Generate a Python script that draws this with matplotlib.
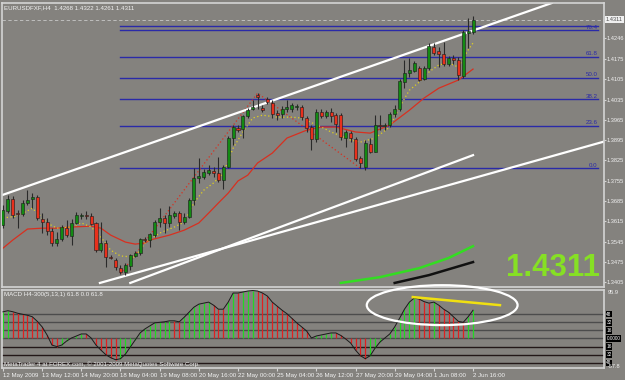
import numpy as np
import matplotlib
matplotlib.use('Agg')
import matplotlib.pyplot as plt
from matplotlib.patches import Ellipse
import matplotlib.transforms as mtransforms

# EURUSD H4 candles (12 May - 2 Jun 2009)
opens = [1.3602, 1.3650, 1.3691, 1.3643, 1.3640, 1.3678, 1.3691, 1.3698, 1.3622, 1.3612,
         1.3581, 1.3540, 1.3553, 1.3591, 1.3564, 1.3609, 1.3633, 1.3636, 1.3633, 1.3609,
         1.3515, 1.3540, 1.3491, 1.3481, 1.3453, 1.3440, 1.3460, 1.3495, 1.3505, 1.3553,
         1.3550, 1.3567, 1.3612, 1.3626, 1.3609, 1.3633, 1.3643, 1.3612, 1.3629, 1.3688,
         1.3764, 1.3767, 1.3781, 1.3788, 1.3781, 1.3757, 1.3802, 1.3902, 1.3936, 1.3933,
         1.3978, 1.4002, 1.4050, 1.4005, 1.4036, 1.4023, 1.3988, 1.3985, 1.4002, 1.4002,
         1.4009, 1.4009, 1.3971, 1.3940, 1.3898, 1.3992, 1.3978, 1.3992, 1.3981, 1.3981,
         1.3902, 1.3919, 1.3898, 1.3833, 1.3802, 1.3881, 1.3854, 1.3947, 1.3943, 1.3947,
         1.3985, 1.4002, 1.4095, 1.4126, 1.4133, 1.4143, 1.4105, 1.4143, 1.4216, 1.4202,
         1.4192, 1.4157, 1.4178, 1.4171, 1.4116, 1.4264, 1.4268]
highs = [1.3671, 1.3705, 1.3702, 1.3653, 1.3688, 1.3722, 1.3712, 1.3705, 1.3643, 1.3626,
         1.3591, 1.3578, 1.3602, 1.3619, 1.3622, 1.3647, 1.3643, 1.3650, 1.3643, 1.3612,
         1.3612, 1.3550, 1.3498, 1.3488, 1.3464, 1.3471, 1.3502, 1.3512, 1.3557, 1.3560,
         1.3574, 1.3619, 1.3660, 1.3636, 1.3667, 1.3650, 1.3650, 1.3643, 1.3695, 1.3798,
         1.3833, 1.3795, 1.3809, 1.3802, 1.3836, 1.3809, 1.3909, 1.3947, 1.3947, 1.3981,
         1.4005, 1.4033, 1.4057, 1.4016, 1.4043, 1.4033, 1.3998, 1.4012, 1.4033, 1.4023,
         1.4019, 1.4016, 1.3978, 1.3947, 1.4002, 1.4002, 1.3998, 1.4005, 1.3988, 1.3988,
         1.3929, 1.3926, 1.3905, 1.3840, 1.3895, 1.3902, 1.3981, 1.3981, 1.3954, 1.3992,
         1.4016, 1.4105, 1.4171, 1.4178, 1.4168, 1.4150, 1.4150, 1.4230, 1.4230, 1.4216,
         1.4233, 1.4185, 1.4188, 1.4181, 1.4274, 1.4316, 1.4322]
lows = [1.3591, 1.3643, 1.3626, 1.3591, 1.3633, 1.3671, 1.3660, 1.3619, 1.3574, 1.3567,
        1.3529, 1.3529, 1.3546, 1.3560, 1.3533, 1.3605, 1.3622, 1.3622, 1.3602, 1.3509,
        1.3509, 1.3457, 1.3484, 1.3446, 1.3433, 1.3430, 1.3446, 1.3491, 1.3498, 1.3543,
        1.3526, 1.3560, 1.3595, 1.3574, 1.3595, 1.3626, 1.3584, 1.3605, 1.3626, 1.3671,
        1.3747, 1.3760, 1.3774, 1.3767, 1.3750, 1.3726, 1.3798, 1.3878, 1.3923, 1.3902,
        1.3971, 1.3998, 1.4002, 1.3992, 1.4019, 1.3971, 1.3964, 1.3971, 1.3992, 1.3992,
        1.3998, 1.3964, 1.3923, 1.3860, 1.3888, 1.3971, 1.3971, 1.3957, 1.3923, 1.3895,
        1.3871, 1.3888, 1.3823, 1.3798, 1.3791, 1.3850, 1.3854, 1.3929, 1.3929, 1.3940,
        1.3974, 1.3995, 1.4074, 1.4112, 1.4129, 1.4099, 1.4102, 1.4136, 1.4188, 1.4147,
        1.4150, 1.4150, 1.4157, 1.4102, 1.4109, 1.4212, 1.4261]
closes = [1.3653, 1.3691, 1.3636, 1.3640, 1.3678, 1.3688, 1.3698, 1.3626, 1.3612, 1.3581,
          1.3540, 1.3553, 1.3595, 1.3567, 1.3609, 1.3636, 1.3636, 1.3633, 1.3605, 1.3515,
          1.3540, 1.3491, 1.3488, 1.3457, 1.3440, 1.3464, 1.3498, 1.3505, 1.3553, 1.3550,
          1.3571, 1.3612, 1.3626, 1.3609, 1.3636, 1.3643, 1.3612, 1.3629, 1.3688, 1.3764,
          1.3771, 1.3785, 1.3791, 1.3781, 1.3757, 1.3802, 1.3902, 1.3940, 1.3929, 1.3978,
          1.3998, 1.4009, 1.4043, 1.3998, 1.4026, 1.3985, 1.3981, 1.4002, 1.4009, 1.4016,
          1.4012, 1.3974, 1.3936, 1.3898, 1.3992, 1.3978, 1.3992, 1.3978, 1.3950, 1.3905,
          1.3923, 1.3902, 1.3829, 1.3816, 1.3885, 1.3854, 1.3947, 1.3943, 1.3947, 1.3985,
          1.4002, 1.4099, 1.4126, 1.4136, 1.4161, 1.4102, 1.4143, 1.4219, 1.4195, 1.4192,
          1.4157, 1.4178, 1.4171, 1.4119, 1.4268, 1.4271, 1.4311]

# moving averages (bar index, price) read at a few points
red_ma_bars = [0, 2, 5, 8, 11, 14, 18, 20, 22, 25, 27, 29, 30, 34, 37, 40, 42, 44, 46, 48,
               50, 52, 55, 58, 62, 65, 68, 72, 75, 79, 83, 86, 89, 93, 96]
red_ma_vals = [1.3522, 1.3550, 1.3588, 1.3591, 1.3591, 1.3595, 1.3598, 1.3591, 1.3567, 1.3543,
               1.3536, 1.3540, 1.3550, 1.3567, 1.3584, 1.3609, 1.3643, 1.3678, 1.3712, 1.3754,
               1.3774, 1.3816, 1.3850, 1.3902, 1.3929, 1.3940, 1.3940, 1.3923, 1.3919, 1.3947,
               1.3998, 1.4040, 1.4074, 1.4102, 1.4140]
yel_ma_bars = [0, 3, 6, 7, 9, 11, 14, 16, 18, 20, 22, 24, 27, 29, 32, 35, 37, 39, 41, 43,
               45, 47, 49, 51, 53, 56, 59, 61, 65, 67, 71, 73, 76, 79, 81, 83, 85, 87, 89, 91,
               93, 95, 96]
yel_ma_vals = [1.3626, 1.3633, 1.3660, 1.3643, 1.3609, 1.3591, 1.3595, 1.3609, 1.3595, 1.3560,
               1.3515, 1.3495, 1.3491, 1.3540, 1.3574, 1.3595, 1.3612, 1.3678, 1.3722, 1.3747,
               1.3781, 1.3867, 1.3923, 1.3971, 1.3981, 1.3974, 1.3974, 1.3971, 1.3940, 1.3923,
               1.3895, 1.3888, 1.3902, 1.3940, 1.4009, 1.4067, 1.4095, 1.4130, 1.4154, 1.4161,
               1.4147, 1.4206, 1.4230]
green_ma_bars = [69, 77, 85, 91, 96]
green_ma_vals = [1.3402, 1.3422, 1.3453, 1.3488, 1.3529]
black_ma_bars = [80, 87, 96]
black_ma_vals = [1.3402, 1.3429, 1.3474]

# zigzag swing points
zz_bars = [24, 52, 73]
zz_vals = [1.3433, 1.4057, 1.3798]

# trend lines (bar, price) pairs
upper_line = [(-0.2, 1.3705), (112.1, 1.4368)]
lower_line1 = [(19.8, 1.3402), (123.0, 1.3891)]
lower_line2 = [(26.0, 1.3402), (96.0, 1.3843)]

# fibonacci retracement
fib_low = 1.3798
fib_high = 1.4420
fib_levels = [0.0, 23.6, 38.2, 50.0, 61.8, 76.4]
extra_level = 1.4288
bid = 1.4311

price_ticks = [1.4246, 1.4175, 1.4105, 1.4035, 1.3965, 1.3895, 1.3825, 1.3755,
               1.3685, 1.3615, 1.3545, 1.3475, 1.3405]

# MACD(5,13,1) values per bar
macd = [52.8, 55, 53, 50, 48, 46, 43, 34, 23, 7, -13, -16, -13, -5, 1, 5, 9, 9, 1, -13,
        -23, -32, -38, -42, -40, -31, -17, -3, 11, 19, 25, 31, 32, 33, 35, 35, 33, 42, 52, 62,
        68, 70, 72, 66, 58, 58, 72, 90, 90, 92, 94, 95, 94, 90, 84, 72, 64, 56, 49, 40,
        31, 23, 15, 1, 5, 7, 9, 11, 11, 6, -1, -9, -23, -34, -40, -34, -19, -7, 1, 9,
        23, 40, 58, 72, 80, 78, 73, 70, 72, 66, 58, 52, 43, 34, 32, 43, 56]
macd_levels = [48, 32, 16, 0, -16, -32, -48]

time_ticks = [0, 8, 16, 24, 32, 40, 48, 56, 64, 72, 80, 88, 96]
time_labels = ['12 May 2009', '13 May 12:00', '14 May 20:00', '18 May 04:00', '19 May 08:00',
               '20 May 16:00', '22 May 00:00', '25 May 04:00', '26 May 12:00', '27 May 20:00',
               '29 May 04:00', '1 Jun 08:00', '2 Jun 16:00']

BG = '#84827e'
FRAME = '#d4d4d4'
TXT = '#f2f2f2'
FIB = '#2a2aa8'
SMALL = ['Liberation Sans', 'DejaVu Sans']
FS = 4.4

fig = plt.figure(figsize=(6.25, 3.8), dpi=100)
fig.patch.set_facecolor(BG)
ax = fig.add_axes([2 / 625, 93 / 380, 602 / 625, 284 / 380])
ax2 = fig.add_axes([2 / 625, 12 / 380, 602 / 625, 78 / 380])

for a in (ax, ax2):
    a.set_facecolor(BG)
    a.set_xlim(-0.2, 122.75)
    for s in a.spines.values():
        s.set_color(FRAME)
        s.set_linewidth(1.2)

ax.set_ylim(1.3388, 1.4368)
ax2.set_ylim(-58.4, 96)

# price panel -------------------------------------------------------------
o = np.array(opens)
h = np.array(highs)
l = np.array(lows)
c = np.array(closes)
idx = np.arange(len(c))

for lv in fib_levels:
    p = fib_low + (fib_high - fib_low) * lv / 100
    ax.plot([24.0, 121.6], [p, p], color=FIB, lw=1.0, zorder=1)
    ax.text(121.4, p + 0.0002, '%.1f' % lv, color=FIB, fontsize=FS, family=SMALL,
            ha='right', va='bottom', zorder=2)
ax.plot([24.0, 121.6], [extra_level, extra_level], color=FIB, lw=1.0, zorder=1)
ax.axhline(bid, color='#c8c8c8', lw=0.6, ls=(0, (4, 3)), zorder=1)

ax.plot(zz_bars, zz_vals, color='#d83020', lw=0.9, ls=(0, (1, 2)), zorder=2)
ax.plot(red_ma_bars, red_ma_vals, color='#d83020', lw=0.9, zorder=2)
ax.plot(yel_ma_bars, yel_ma_vals, color='#e0d020', lw=0.9, ls=(0, (1, 2)), zorder=2)
ax.plot(green_ma_bars, green_ma_vals, color='#33dd22', lw=1.8, zorder=2)
ax.plot(black_ma_bars, black_ma_vals, color='#111111', lw=1.8, zorder=2)

for ln in (upper_line, lower_line1, lower_line2):
    xs, ys = zip(*ln)
    ax.plot(xs, ys, color='white', lw=1.6, zorder=2)

ax.vlines(idx, l, h, color='#2a2a2a', lw=0.8, zorder=3)
lo = np.minimum(o, c)
hgt = np.maximum(np.abs(c - o), 0.0003)
up = c >= o
ax.bar(idx[up], hgt[up], bottom=lo[up], width=0.62, color='#138a13',
       edgecolor='#1a1a1a', lw=0.4, zorder=4)
ax.bar(idx[~up], hgt[~up], bottom=lo[~up], width=0.62, color='#e8301c',
       edgecolor='#1a1a1a', lw=0.4, zorder=4)

ax.text(0.004, 0.992, 'EURUSDFXF,H4  1.4268 1.4322 1.4261 1.4311', transform=ax.transAxes,
        color=TXT, fontsize=FS, family=SMALL, va='top', ha='left')
ax.text(0.837, 0.038, '1.4311', transform=ax.transAxes, color='#86e024',
        fontsize=22.5, fontweight='bold', family=SMALL, va='baseline', ha='left')

ax.set_xticks([])
ax.yaxis.tick_right()
ax.set_yticks(price_ticks)
ax.set_yticklabels(['%.4f' % t for t in price_ticks])
ax.tick_params(axis='y', colors=FRAME, length=1.5, width=0.8, pad=0.5,
               labelsize=4.1, labelcolor=TXT)
for t in ax.get_yticklabels():
    t.set_family(SMALL)
trans = mtransforms.blended_transform_factory(ax.transAxes, ax.transData)
ax.text(1.003, bid, '%.4f' % bid, transform=trans, fontsize=4.1, family=SMALL,
        color='#505050', va='center', ha='left', clip_on=False,
        bbox=dict(boxstyle='square,pad=0.15', fc='#f0f0f0', ec='none'))

# MACD panel --------------------------------------------------------------
for lv in macd_levels:
    col = '#4c4c4c' if lv >= 0 else '#231818'
    ax2.axhline(lv, color=col, lw=1.0, zorder=1)

m = np.array(macd, dtype=float)
rising = np.r_[True, m[1:] > m[:-1]]
ax2.vlines(idx[rising], 0, m[rising], color='#22d822', lw=0.9, zorder=2)
ax2.vlines(idx[~rising], 0, m[~rising], color='#e02020', lw=0.9, zorder=2)
ax2.plot(idx, m, color='#1a1a1a', lw=0.7, zorder=3)

ell = Ellipse((89.7, 66), 30.8, 79, fill=False, ec='white', lw=1.6, zorder=5, clip_on=False)
ax2.add_patch(ell)
ax2.plot([83.7, 101.5], [82, 66], color='#f0e010', lw=1.8, zorder=6)

ax2.text(0.004, 0.975, 'MACD H4-300(5,13,1) 61.8 0.0 61.8', transform=ax2.transAxes,
         color=TXT, fontsize=FS, family=SMALL, va='top', ha='left')
ax2.text(0.004, 0.01, 'MetaTrader 4 at FOREX.com, \u00a9 2001-2009 MetaQuotes Software Corp.',
         transform=ax2.transAxes, color=TXT, fontsize=FS, family=SMALL,
         va='bottom', ha='left')

ax2.yaxis.tick_right()
ax2.set_yticks([])
trans2 = mtransforms.blended_transform_factory(ax2.transAxes, ax2.transData)
ax2.text(1.006, 91, '95.9', transform=trans2, color=TXT, fontsize=4.1, family=SMALL,
         va='center', ha='left', clip_on=False)
for lv in macd_levels:
    lab = '0.0000' if lv == 0 else str(abs(lv))
    ax2.text(1.004, lv, lab, transform=trans2, color='white', fontsize=3.4, family=SMALL,
             va='center', ha='left', clip_on=False,
             bbox=dict(boxstyle='square,pad=0.15', fc='black', ec='none'))
ax2.text(1.006, -55, '-57.8', transform=trans2, color=TXT, fontsize=4.0, family=SMALL,
         va='center', ha='left', clip_on=False)

ax2.set_xticks(time_ticks)
ax2.set_xticklabels(time_labels, ha='left')
ax2.tick_params(axis='x', colors=FRAME, length=2.5, width=0.8, pad=1,
                labelsize=FS, labelcolor=TXT)
for t in ax2.get_xticklabels():
    t.set_family(SMALL)

fig.savefig('out.png', dpi=100, facecolor=BG)
